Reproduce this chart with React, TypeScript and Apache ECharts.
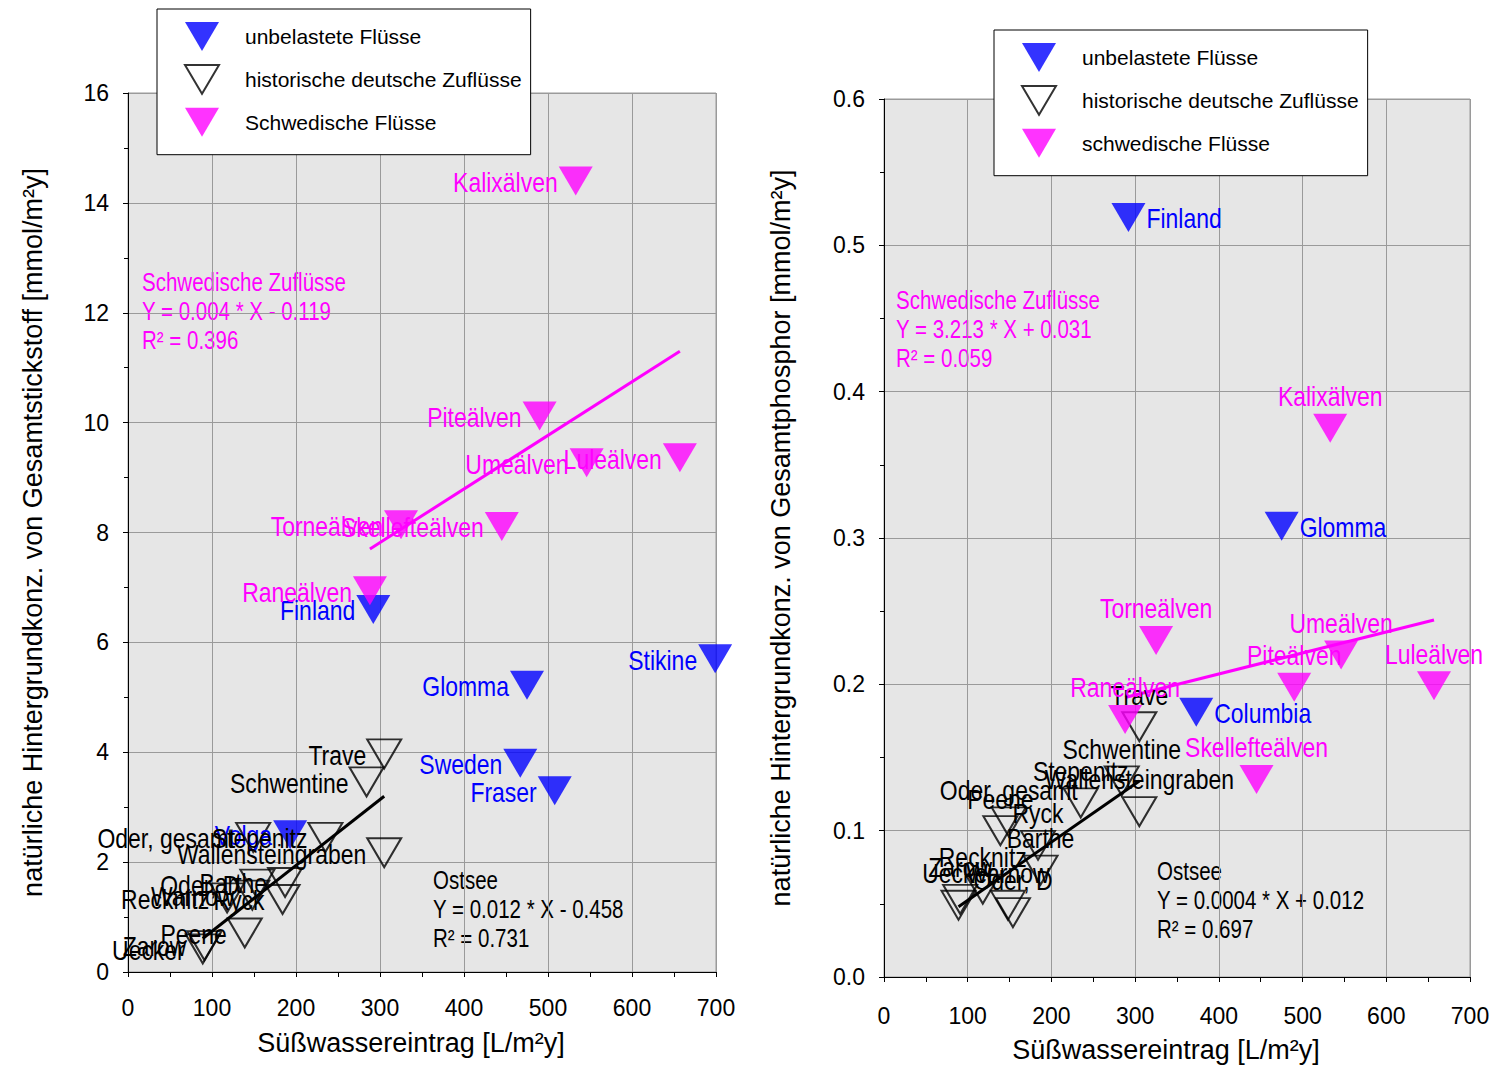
import React, { useEffect, useRef } from 'react';
import * as echarts from 'echarts';

type Pt = [string, number, number];

// ---- Left chart: Gesamtstickstoff ----
const unbelastetN: Pt[] = [
  ['Finland', 292, 6.6],
  ['Stikine', 699, 5.7],
  ['Glomma', 475, 5.22],
  ['Sweden', 467, 3.8],
  ['Fraser', 508, 3.3],
  ['Volga', 193, 2.5],
];
const historischN: Pt[] = [
  ['Trave', 305, 3.97],
  ['Schwentine', 284, 3.46],
  ['Wallensteingraben', 305, 2.17],
  ['Stepenitz', 235, 2.45],
  ['Oder, gesamt', 149, 2.45],
  ['Oder, D', 154, 1.6],
  ['Barthe', 187, 1.63],
  ['Ryck', 184, 1.32],
  ['Warnow', 148, 1.4],
  ['Recknitz', 118, 1.35],
  ['Peene', 139, 0.71],
  ['Uecker', 89, 0.42],
  ['Zarow', 91, 0.48],
];
const schwedischN: Pt[] = [
  ['Kalixälven', 533, 14.4],
  ['Piteälven', 490, 10.12],
  ['Umeälven', 546, 9.27],
  ['Luleälven', 657, 9.36],
  ['Torneälven', 325, 8.14],
  ['Skellefteälven', 445, 8.11],
  ['Raneälven', 288, 6.94],
];
const trendSchwedN: [number, number][] = [[288, 7.7], [657, 11.3]];
const trendOstseeN: [number, number][] = [[89, 0.61], [305, 3.2]];

// ---- Right chart: Gesamtphosphor ----
const unbelastetP: Pt[] = [
  ['Finland', 292, 0.519],
  ['Glomma', 475, 0.308],
  ['Columbia', 373, 0.181],
];
const historischP: Pt[] = [
  ['Trave', 305, 0.171],
  ['Schwentine', 284, 0.134],
  ['Wallensteingraben', 305, 0.113],
  ['Stepenitz', 235, 0.119],
  ['Oder, gesamt', 149, 0.106],
  ['Peene', 139, 0.1],
  ['Ryck', 184, 0.09],
  ['Barthe', 187, 0.073],
  ['Recknitz', 118, 0.06],
  ['Zarow', 91, 0.053],
  ['Uecker', 89, 0.049],
  ['Warnow', 148, 0.049],
  ['Oder, D', 154, 0.044],
];
const schwedischP: Pt[] = [
  ['Kalixälven', 533, 0.375],
  ['Torneälven', 325, 0.23],
  ['Umeälven', 546, 0.22],
  ['Piteälven', 490, 0.198],
  ['Luleälven', 657, 0.199],
  ['Raneälven', 288, 0.176],
  ['Skellefteälven', 445, 0.135],
];
const trendSchwedP: [number, number][] = [[288, 0.191], [657, 0.244]];
const trendOstseeP: [number, number][] = [[89, 0.048], [305, 0.134]];

const legendNamesLeft = ['unbelastete Flüsse', 'historische deutsche Zuflüsse', 'Schwedische Flüsse'];
const legendNamesRight = ['unbelastete Flüsse', 'historische deutsche Zuflüsse', 'schwedische Flüsse'];
const xTitle = 'Süßwassereintrag [L/m²y]';
const yTitleLeft = 'natürliche Hintergrundkonz. von Gesamtstickstoff [mmol/m²y]';
const yTitleRight = 'natürliche Hintergrundkonz. von Gesamtphosphor [mmol/m²y]';
const noteSchwedN = ['Schwedische Zuflüsse', 'Y = 0.004 * X - 0.119', 'R² = 0.396'];
const noteOstseeN = ['Ostsee', 'Y = 0.012 * X - 0.458', 'R² = 0.731'];
const noteSchwedP = ['Schwedische Zuflüsse', 'Y = 3.213 * X + 0.031', 'R² = 0.059'];
const noteOstseeP = ['Ostsee', 'Y = 0.0004 * X + 0.012', 'R² = 0.697'];

const REG = '"Liberation Sans", Arial, sans-serif';
const NARROW_SCALE = 0.82;
const TRI = 'path://M0,0L20,0L10,17Z';
const BLUE = '#0000ff';
const MAG = '#ff00ff';

const toData = (pts: Pt[]) => pts.map(([name, x, y]) => ({ name, value: [x, y] }));

function scatter(name: string, pts: Pt[], idx: number, kind: 'blue' | 'black' | 'mag') {
  const color = kind === 'blue' ? BLUE : kind === 'mag' ? MAG : '#000';
  return {
    type: 'scatter',
    name,
    xAxisIndex: idx,
    yAxisIndex: idx,
    symbol: TRI,
    symbolSize: [34, 29],
    itemStyle:
      kind === 'black'
        ? { color: 'rgba(0,0,0,0)', borderColor: '#000', borderWidth: 2 }
        : { color, borderWidth: 0 },
    emphasis: { disabled: true },
    data: toData(pts),
    z: kind === 'black' ? 3 : 4,
  };
}

// Point labels drawn in a narrow (horizontally condensed) face, positioned via the axes
function labels(pts: Pt[], idx: number, color: string, pos: 'left' | 'right' | 'top') {
  return {
    type: 'custom',
    xAxisIndex: idx,
    yAxisIndex: idx,
    silent: true,
    z: 6,
    data: pts.map(([, x, y]) => [x, y]),
    renderItem: (params: any, api: any) => {
      const p = api.coord([api.value(0), api.value(1)]);
      const text = pts[params.dataIndex][0];
      let x = p[0];
      let y = p[1] + 1;
      let align = 'center';
      if (pos === 'left') {
        x = p[0] - 18;
        align = 'right';
      } else if (pos === 'right') {
        x = p[0] + 18;
        align = 'left';
      } else {
        y = p[1] - 32;
      }
      return {
        type: 'text',
        x,
        y,
        scaleX: NARROW_SCALE,
        style: {
          text,
          fill: color,
          font: `28px ${REG}`,
          align,
          verticalAlign: 'middle',
        },
      };
    },
  };
}

function trend(data: [number, number][], idx: number, color: string) {
  return {
    type: 'line',
    xAxisIndex: idx,
    yAxisIndex: idx,
    data,
    showSymbol: false,
    silent: true,
    lineStyle: { color, width: 3 },
    z: 5,
  };
}

function xAxis(idx: number) {
  return {
    type: 'value',
    gridIndex: idx,
    min: 0,
    max: 700,
    interval: 100,
    axisLine: { show: true, onZero: false, lineStyle: { color: '#000', width: 1 } },
    axisTick: { show: true, length: 5, lineStyle: { color: '#000' } },
    minorTick: { show: true, splitNumber: 2, length: 5, lineStyle: { color: '#000' } },
    splitLine: { show: true, lineStyle: { color: '#9a9a9a', width: 1 } },
    axisLabel: { fontSize: 23, color: '#000', fontFamily: REG, margin: idx === 0 ? 24 : 27 },
    name: xTitle,
    nameLocation: 'middle',
    nameGap: idx === 0 ? 57 : 59,
    nameTextStyle: { fontSize: 27, color: '#000', fontFamily: REG, padding: [0, 22, 0, 0] },
  };
}

function yAxis(idx: number) {
  const isN = idx === 0;
  return {
    type: 'value',
    gridIndex: idx,
    min: 0,
    max: isN ? 16 : 0.6,
    interval: isN ? 2 : 0.1,
    axisLine: { show: true, onZero: false, lineStyle: { color: '#000', width: 1 } },
    axisTick: { show: true, length: 5, lineStyle: { color: '#000' } },
    minorTick: { show: true, splitNumber: 2, length: 4, lineStyle: { color: '#000' } },
    splitLine: { show: true, lineStyle: { color: '#9a9a9a', width: 1 } },
    axisLabel: {
      fontSize: 23,
      color: '#000',
      fontFamily: REG,
      margin: 19,
      formatter: (v: number) => (isN ? String(Math.round(v)) : v.toFixed(1)),
    },
    name: isN ? yTitleLeft : yTitleRight,
    nameLocation: 'middle',
    nameGap: isN ? 82 : 90,
    nameTextStyle: { fontSize: 27, color: '#000', fontFamily: REG },
  };
}

function note(lines: string[], x: number, y: number, color: string) {
  return {
    type: 'text',
    x,
    y,
    scaleX: NARROW_SCALE,
    silent: true,
    style: {
      text: lines.join('\n'),
      fill: color,
      font: `25px ${REG}`,
      lineHeight: 29,
      verticalAlign: 'top',
    },
  };
}

function legend(names: string[], left: number, top: number) {
  return {
    data: names,
    orient: 'vertical',
    left,
    top,
    itemWidth: 34,
    itemHeight: 29,
    itemGap: 13,
    backgroundColor: '#fff',
    borderColor: '#000',
    borderWidth: 1,
    borderRadius: 0,
    padding: [13, 9, 18, 27],
    selectedMode: false,
    textStyle: { fontSize: 21, color: '#000', fontFamily: REG, padding: [0, 0, 0, 21] },
  };
}

export default function App() {
  const ref = useRef<HTMLDivElement>(null);
  useEffect(() => {
    if (!ref.current) return;
    const chart = echarts.init(ref.current, undefined, { renderer: 'svg' });
    const gridBase = {
      show: true,
      backgroundColor: '#e6e6e6',
      borderColor: '#9a9a9a',
      borderWidth: 1,
      containLabel: false,
    };
    chart.setOption({
      animation: false,
      backgroundColor: '#fff',
      textStyle: { fontFamily: REG },
      grid: [
        { ...gridBase, left: 128, top: 93, width: 588, height: 879 },
        { ...gridBase, left: 884, top: 99, width: 586, height: 878 },
      ],
      xAxis: [xAxis(0), xAxis(1)],
      yAxis: [yAxis(0), yAxis(1)],
      legend: [legend(legendNamesLeft, 157, 9), legend(legendNamesRight, 994, 30)],
      graphic: [
        note(noteSchwedN, 142, 268, MAG),
        note(noteOstseeN, 433, 866, '#000'),
        note(noteSchwedP, 896, 286, MAG),
        note(noteOstseeP, 1157, 857, '#000'),
      ],
      series: [
        scatter(legendNamesLeft[0], unbelastetN, 0, 'blue'),
        scatter(legendNamesLeft[1], historischN, 0, 'black'),
        scatter(legendNamesLeft[2], schwedischN, 0, 'mag'),
        trend(trendSchwedN, 0, MAG),
        trend(trendOstseeN, 0, '#000'),
        labels(unbelastetN, 0, BLUE, 'left'),
        labels(historischN, 0, '#000', 'left'),
        labels(schwedischN, 0, MAG, 'left'),
        scatter(legendNamesRight[0], unbelastetP, 1, 'blue'),
        scatter(legendNamesRight[1], historischP, 1, 'black'),
        scatter(legendNamesRight[2], schwedischP, 1, 'mag'),
        trend(trendSchwedP, 1, MAG),
        trend(trendOstseeP, 1, '#000'),
        labels(unbelastetP, 1, BLUE, 'right'),
        labels(historischP, 1, '#000', 'top'),
        labels(schwedischP, 1, MAG, 'top'),
      ],
    });
    return () => chart.dispose();
  }, []);
  return (
    <div
      ref={ref}
      style={{ position: 'absolute', left: 0, top: 0, width: 1495, height: 1070, background: '#fff' }}
    />
  );
}
